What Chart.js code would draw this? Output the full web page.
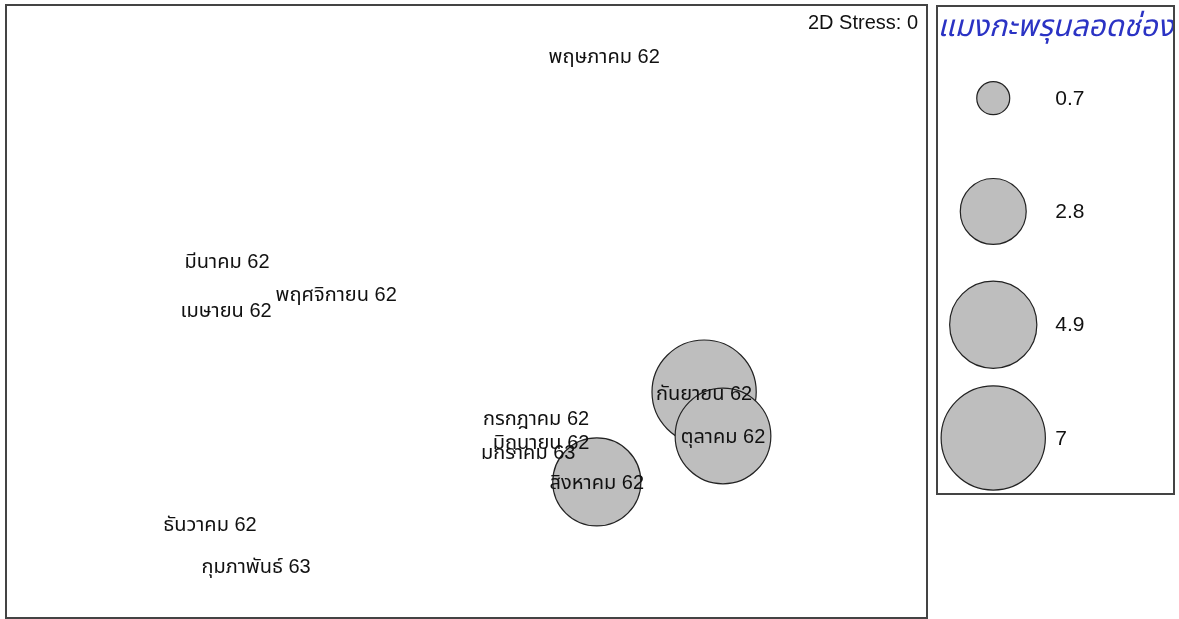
<!DOCTYPE html>
<html>
<head>
<meta charset="utf-8">
<script src="https://cdn.jsdelivr.net/npm/chart.js@4/dist/chart.umd.min.js"></script>
<style>
  html, body { margin: 0; padding: 0; background: #fff; }
  #wrap { position: relative; width: 1179px; height: 619px; overflow: hidden; }
  canvas { position: absolute; }
  #ord { left: 0; top: 0; }
  #key { left: 936px; top: 5px; }
</style>
</head>
<body>
<div id="wrap">
  <canvas id="ord" width="1179" height="619"></canvas>
  <canvas id="key" width="239" height="490"></canvas>
</div>
<script>
// Sampling months (chronological order = drawing order)
const months = [
  'มีนาคม 62', 'เมษายน 62', 'พฤษภาคม 62', 'มิถุนายน 62', 'กรกฎาคม 62', 'สิงหาคม 62',
  'กันยายน 62', 'ตุลาคม 62', 'พฤศจิกายน 62', 'ธันวาคม 62', 'มกราคม 63', 'กุมภาพันธ์ 63'
];
// NMDS site scores
const nmds1 = [-0.520, -0.522, 0.299, 0.162, 0.151, 0.283, 0.516, 0.557, -0.283, -0.557, 0.134, -0.457];
const nmds2 = [0.168, 0.008, 0.834, -0.423, -0.347, -0.556, -0.263, -0.406, 0.060, -0.693, -0.458, -0.830];
// Abundance of the jellyfish species per month
const abundance = [0, 0, 0, 0, 0, 5.0, 7.0, 5.9, 0, 0, 0, 0];

// Bubble-size key
const keyValues = [0.7, 2.8, 4.9, 7];
const keyLabels = ['0.7', '2.8', '4.9', '7'];
const keyTitle = 'แมงกะพรุนลอดช่อง';
const stressText = '2D Stress: 0';

// circle radius in px grows with the square root of abundance (area proportional)
const RADIUS_PER_SQRT = 19.7;
const radiusOf = v => RADIUS_PER_SQRT * Math.sqrt(v);

const LABEL_FONT = '20px "Liberation Sans", Arial, "Noto Sans Thai", Tahoma, sans-serif';
const BUBBLE_FILL = '#bebebe';
const BUBBLE_EDGE = '#222';

const ordPoints = months.map((m, i) => ({ x: nmds1[i], y: nmds2[i], r: radiusOf(abundance[i]) }));

const ordDecor = {
  id: 'ordDecor',
  afterDatasetsDraw(chart) {
    const { ctx, chartArea: a } = chart;
    const meta = chart.getDatasetMeta(0);
    ctx.save();
    // site labels on top of the circles
    ctx.font = LABEL_FONT;
    ctx.fillStyle = '#111';
    ctx.textAlign = 'center';
    ctx.textBaseline = 'middle';
    meta.data.forEach((pt, i) => ctx.fillText(months[i], pt.x, pt.y + 2));
    // stress annotation
    ctx.textAlign = 'right';
    ctx.fillText(stressText, a.right - 9, a.top + 18);
    // plot frame
    ctx.strokeStyle = '#444';
    ctx.lineWidth = 2;
    ctx.strokeRect(a.left, a.top, a.right - a.left, a.bottom - a.top);
    ctx.restore();
  }
};

new Chart(document.getElementById('ord'), {
  type: 'bubble',
  data: {
    datasets: [{
      data: ordPoints,
      backgroundColor: BUBBLE_FILL,
      borderColor: BUBBLE_EDGE,
      borderWidth: 1.2,
      clip: false
    }]
  },
  options: {
    responsive: false,
    animation: false,
    events: [],
    layout: { autoPadding: false, padding: { left: 6, top: 5, right: 252, bottom: 1 } },
    plugins: { legend: { display: false }, tooltip: { enabled: false } },
    scales: {
      x: { type: 'linear', min: -1, max: 1, display: false },
      y: { type: 'linear', min: -1, max: 1, display: false }
    }
  },
  plugins: [ordDecor]
});

// ---- size key ----
const keyPoints = keyValues.map((v, i) => ({ x: 0, y: i, r: radiusOf(v) }));

const keyDecor = {
  id: 'keyDecor',
  afterDatasetsDraw(chart) {
    const { ctx, chartArea: a } = chart;
    const meta = chart.getDatasetMeta(0);
    ctx.save();
    ctx.font = '21px "Liberation Sans", Arial, sans-serif';
    ctx.fillStyle = '#111';
    ctx.textAlign = 'left';
    ctx.textBaseline = 'middle';
    meta.data.forEach((pt, i) => ctx.fillText(keyLabels[i], pt.x + 62, pt.y + 1));
    ctx.font = 'italic 30px "Noto Sans Thai", "DejaVu Sans", sans-serif';
    ctx.fillStyle = '#2b33c4';
    ctx.textAlign = 'center';
    ctx.fillText(keyTitle, (a.left + a.right) / 2, a.top + 25);
    ctx.strokeStyle = '#444';
    ctx.lineWidth = 2;
    ctx.strokeRect(a.left + 1, a.top + 1, a.right - a.left - 2, a.bottom - a.top - 2);
    ctx.restore();
  }
};

new Chart(document.getElementById('key'), {
  type: 'bubble',
  data: {
    datasets: [{
      data: keyPoints,
      backgroundColor: BUBBLE_FILL,
      borderColor: BUBBLE_EDGE,
      borderWidth: 1.2,
      clip: false
    }]
  },
  options: {
    responsive: false,
    animation: false,
    events: [],
    layout: { autoPadding: false, padding: 0 },
    plugins: { legend: { display: false }, tooltip: { enabled: false } },
    scales: {
      x: { type: 'linear', min: -1, max: 3.175, display: false },
      y: { type: 'linear', min: -0.823, max: 3.504, reverse: true, display: false }
    }
  },
  plugins: [keyDecor]
});
</script>
</body>
</html>
